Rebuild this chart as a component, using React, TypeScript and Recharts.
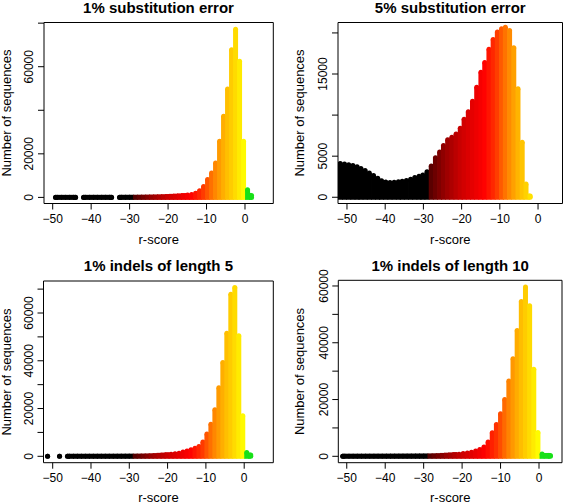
import { ComposedChart, Bar, XAxis, YAxis } from "recharts";

const FONT = '"Liberation Sans", Arial, Helvetica, sans-serif';

// bin centres (r-score) and counts
const CENTERS_A = [
  -49.2, -48.16, -47.12, -46.08, -45.04, -44.0, -42.96, -41.92, -40.88, -39.84,
  -38.8, -37.76, -36.72, -35.68, -34.64, -33.6, -32.56, -31.52, -30.48, -29.44,
  -28.4, -27.36, -26.32, -25.28, -24.24, -23.2, -22.16, -21.12, -20.08, -19.04,
  -18.0, -16.96, -15.92, -14.88, -13.84, -12.8, -11.76, -10.72, -9.68, -8.64,
  -7.6, -6.56, -5.52, -4.48, -3.44, -2.4, -1.36, -0.32, 0.72, 1.76,
];

const SUB1_R = CENTERS_A;
const SUB1_N = [
  15, 20, 25, 20, 30, 25, 0, 30, 25, 35,
  40, 30, 45, 40, 50, 0, 45, 55, 60, 70,
  80, 100, 120, 150, 180, 220, 270, 330, 400, 480,
  580, 700, 850, 1050, 1350, 1900, 3000, 5000, 8200, 11200,
  15800, 25800, 37300, 49800, 67800, 77200, 62500, 25800, 3500, 900,
];

const SUB5_R = [
  -51.7, -50.6, -49.5, -48.4, -47.3, -46.3, -45.2, -44.1, -43.0, -41.9,
  -40.9, -39.8, -38.7, -37.6, -36.5, -35.5, -34.4, -33.3, -32.2, -31.1,
  -30.1, -29.0, -27.9, -26.8, -25.7, -24.7, -23.6, -22.5, -21.4, -20.3,
  -19.3, -18.2, -17.1, -16.0, -14.9, -13.9, -12.8, -11.7, -10.6, -9.5,
  -8.5, -7.4, -6.3, -5.2, -4.1, -3.1, -2.0,
];
const SUB5_N = [
  4100, 4050, 3950, 3850, 3700, 3500, 3250, 2950, 2650, 2300,
  2000, 1850, 1800, 1820, 1880, 1950, 2050, 2200, 2400, 2550,
  2700, 3100, 3800, 4800, 5500, 6300, 7000, 7300, 7700, 8400,
  9500, 10400, 11700, 13400, 15200, 16400, 18000, 19200, 20100, 20500,
  20700, 20300, 18200, 13200, 6700, 1600, 150,
];

const IND5_R = [-51.28, -50.24, ...CENTERS_A];
const IND5_N = [
  15, 0, 0, 15, 0,
  20, 20, 25, 25, 25, 30, 30, 30, 35, 35, 40, 40, 45, 50, 55, 60, 65,
  70, 90, 120, 160, 220, 300, 400, 520, 680, 850, 1050, 1300, 1800, 2200, 2700, 3400,
  4100, 6000, 9300, 13400, 19500, 28700, 39300, 51500, 67900, 70700, 50500, 17000, 1600, 500,
];

const IND10_R = [
  -51.02, -49.94, -48.86, -47.78, -46.7, -45.62, -44.54, -43.46, -42.38, -41.3,
  -40.22, -39.14, -38.06, -36.98, -35.9, -34.82, -33.74, -32.66, -31.58, -30.5,
  -29.42, -28.34, -27.26, -26.18, -25.1, -24.02, -22.94, -21.86, -20.78, -19.7,
  -18.62, -17.54, -16.46, -15.38, -14.3, -13.22, -12.14, -11.06, -9.98, -8.9,
  -7.82, -6.74, -5.66, -4.58, -3.5, -2.42, -1.34, -0.26, 0.82, 1.9, 2.98,
];
const IND10_N = [
  40, 40, 45, 45, 50, 50, 55, 55, 60, 60,
  65, 70, 75, 80, 85, 90, 95, 100, 110, 120,
  130, 150, 190, 240, 310, 400, 500, 620, 760, 950,
  1150, 1450, 1850, 2400, 3300, 5000, 8300, 11200, 15000, 20000,
  26500, 34400, 44300, 54500, 59600, 53000, 30700, 8400, 800, 300, 300,
];

const X_TICKS = [-50, -40, -30, -20, -10, 0];

type Row = { r: number; n: number };
const toRows = (rs: number[], ns: number[]): Row[] => rs.map((r, i) => ({ r, n: ns[i] }));

// heat-style colour ramp by r-score
const STOPS: [number, number[]][] = [
  [-28.7, [77, 0, 0]],
  [-24, [154, 0, 0]],
  [-20, [204, 0, 0]],
  [-14, [255, 0, 0]],
  [-11, [255, 51, 0]],
  [-8, [255, 128, 0]],
  [-5, [255, 184, 0]],
  [-3, [255, 210, 0]],
  [0, [255, 255, 0]],
];

function scoreColor(r: number) {
  if (r > 0.3) return "#18e018";
  if (r < STOPS[0][0]) return "#000000";
  for (let i = 1; i < STOPS.length; i++) {
    const [r1, c1] = STOPS[i];
    const [r0, c0] = STOPS[i - 1];
    if (r <= r1) {
      const t = (r - r0) / (r1 - r0);
      const c = c0.map((v, j) => Math.round(v + (c1[j] - v) * t));
      return `rgb(${c[0]},${c[1]},${c[2]})`;
    }
  }
  return "#ffff00";
}

const R = 2.5; // half of the stick width

// a thick "type h" stick: flat base, round top; runs of near-zero bins merge into a band
function makeStick(rows: Row[]) {
  return function Stick(props: any) {
    const { x, y, width, height, index, payload } = props;
    const row: Row = payload ?? rows[index];
    if (!row || !(row.n > 0)) return <g />;
    const cx = x + width / 2;
    const y0 = y + height;
    const col = scoreColor(row.r);
    const i = typeof index === "number" ? index : rows.indexOf(row);
    const prevOn = i > 0 && rows[i - 1].n > 0;
    const nextOn = i >= 0 && i < rows.length - 1 && rows[i + 1].n > 0;
    if (height > 2) {
      return (
        <g fill={col}>
          <rect x={cx - R} y={y} width={2 * R} height={height + R} />
          <circle cx={cx} cy={y} r={R} />
        </g>
      );
    }
    const left = prevOn ? cx - R : cx;
    const right = nextOn ? cx + R : cx;
    return (
      <g fill={col}>
        {right > left && <rect x={left} y={y - R} width={right - left} height={height + 2 * R} />}
        {(!prevOn || !nextOn) && <circle cx={cx} cy={y0} r={R} />}
        {(!prevOn || !nextOn) && <circle cx={cx} cy={y} r={R} />}
      </g>
    );
  };
}

const minusFmt = (v: number) => String(v).replace("-", "\u2212");

type PanelProps = {
  left: number; top: number; width: number; height: number;
  // plot box edges, relative to the panel
  box: { x0: number; x1: number; y0: number; y1: number };
  rows: Row[];
  xDomain: [number, number];
  yDomain: [number, number];
  yTicks: number[];
  yShown: number[];
};

const AX_H = 30;
const AX_W = 30;

function Panel(p: PanelProps) {
  const margin = {
    top: p.box.y0 - 1,
    right: p.width - p.box.x1 - 1,
    bottom: p.height - p.box.y1 - AX_H,
    left: p.box.x0 - AX_W,
  };
  const Stick = makeStick(p.rows);
  const YTick = (props: any) => {
    const { x, y, payload } = props;
    if (!p.yShown.includes(payload.value)) return <g />;
    return (
      <text x={x} y={y} transform={`rotate(-90 ${x} ${y})`} textAnchor="middle"
        fontSize={12} fill="#000" fontFamily={FONT}>
        {payload.value}
      </text>
    );
  };
  return (
    <div style={{ position: "absolute", left: p.left, top: p.top }}>
      <ComposedChart width={p.width} height={p.height} data={p.rows} margin={margin}>
        <XAxis
          dataKey="r" type="number" domain={p.xDomain} allowDataOverflow
          ticks={X_TICKS} interval={0} height={AX_H} tickSize={6} tickMargin={5}
          tickFormatter={minusFmt}
          stroke="#000" tickLine={{ stroke: "#000" }}
          tick={{ fontSize: 12, fill: "#000", fontFamily: FONT }}
        />
        <XAxis xAxisId="top" orientation="top" type="number" domain={p.xDomain}
          allowDataOverflow height={1} tick={false} tickLine={false} stroke="#000" />
        <YAxis
          type="number" domain={p.yDomain} allowDataOverflow ticks={p.yTicks}
          interval={0} width={AX_W} tickSize={6} tickMargin={4.5}
          stroke="#000" tickLine={{ stroke: "#000" }} tick={YTick}
        />
        <YAxis yAxisId="right" orientation="right" type="number" domain={p.yDomain}
          allowDataOverflow width={1} tick={false} tickLine={false} stroke="#000" />
        <Bar dataKey="n" barSize={4} isAnimationActive={false}
          shape={(props: any) => <Stick {...props} />} />
      </ComposedChart>
    </div>
  );
}

const TITLES = [
  { text: "1% substitution error", x: 158.5, y: 12.7 },
  { text: "5% substitution error", x: 450.3, y: 12.7 },
  { text: "1% indels of length 5", x: 158.4, y: 271 },
  { text: "1% indels of length 10", x: 450.2, y: 271 },
];
const XLABELS = [
  { x: 158.7, y: 244 }, { x: 450.3, y: 244 }, { x: 158.4, y: 502 }, { x: 450.2, y: 502 },
];
const YLABELS = [
  { x: 11, y: 113 }, { x: 304, y: 113 }, { x: 11, y: 372 }, { x: 304, y: 371.5 },
];

export default function App() {
  return (
    <div style={{ position: "absolute", left: 0, top: 0, width: 567, height: 504, background: "#fff" }}>
      <Panel left={0} top={0} width={283} height={252}
        box={{ x0: 44, x1: 273.3, y0: 22.5, y1: 203.5 }}
        rows={toRows(SUB1_R, SUB1_N)} xDomain={[-52.26, 7.36]} yDomain={[-2800, 80300]}
        yTicks={[0, 20000, 40000, 60000, 80000]} yShown={[0, 20000, 60000]} />
      <Panel left={283} top={0} width={284} height={252}
        box={{ x0: 55, x1: 279.5, y0: 22.5, y1: 203.5 }}
        rows={toRows(SUB5_R, SUB5_N)} xDomain={[-52.35, 6.4]} yDomain={[-760, 21270]}
        yTicks={[0, 5000, 10000, 15000, 20000]} yShown={[0, 5000, 15000]} />
      <Panel left={0} top={252} width={283} height={252}
        box={{ x0: 43.5, x1: 273.3, y0: 29, y1: 210.7 }}
        rows={toRows(IND5_R, IND5_N)} xDomain={[-52.4, 7.6]} yDomain={[-2680, 73400]}
        yTicks={[0, 10000, 20000, 30000, 40000, 50000, 60000, 70000]} yShown={[0, 20000, 40000, 60000]} />
      <Panel left={283} top={252} width={284} height={252}
        box={{ x0: 55.3, x1: 279, y0: 28.3, y1: 210.7 }}
        rows={toRows(IND10_R, IND10_N)} xDomain={[-52.2, 5.98]} yDomain={[-2250, 62000]}
        yTicks={[0, 10000, 20000, 30000, 40000, 50000, 60000]} yShown={[0, 20000, 40000, 60000]} />
      <svg width={567} height={504} style={{ position: "absolute", left: 0, top: 0, pointerEvents: "none" }}
        fontFamily={FONT} fill="#000">
        {TITLES.map((t) => (
          <text key={t.text} x={t.x} y={t.y} textAnchor="middle" fontSize={15} fontWeight="bold">{t.text}</text>
        ))}
        {XLABELS.map((l, i) => (
          <text key={i} x={l.x} y={l.y} textAnchor="middle" fontSize={13}>r-score</text>
        ))}
        {YLABELS.map((l, i) => (
          <text key={i} x={l.x} y={l.y} textAnchor="middle" fontSize={13}
            transform={`rotate(-90 ${l.x} ${l.y})`}>Number of sequences</text>
        ))}
      </svg>
    </div>
  );
}
